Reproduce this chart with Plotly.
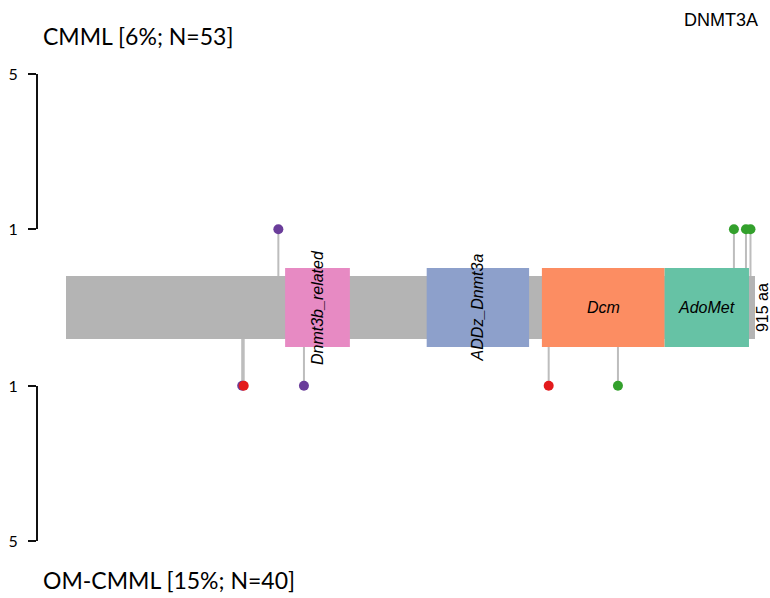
import plotly.graph_objects as go

# Protein and domain annotation (amino-acid coordinates)
PROTEIN = "DNMT3A"
PROTEIN_LEN = 915
domain_names = ["Dnmt3b_related", "ADDz_Dnmt3a", "Dcm", "AdoMet"]
domain_start = [291, 479, 632, 795]
domain_end = [377, 615, 795, 907]
domain_colors = ["#E78AC3", "#8DA0CB", "#FC8D62", "#66C2A5"]
domain_label_angle = [-90, -90, 0, 0]

# Mutations per cohort: position, count, class colour
top_title = "CMML [6%; N=53]"
top_pos = [282, 887, 903, 909]
top_count = [1, 1, 1, 1]
top_color = ["#6A3D9A", "#33A02C", "#33A02C", "#33A02C"]

bot_title = "OM-CMML [15%; N=40]"
bot_pos = [234, 236, 316, 641, 733]
bot_count = [1, 1, 1, 1, 1]
bot_color = ["#6A3D9A", "#E31A1C", "#6A3D9A", "#E31A1C", "#33A02C"]

axis_ticks = [1, 5]

# Geometry of the plotting canvas
W, H = 770, 598
PX_PER_AA = (755 - 66) / PROTEIN_LEN
UNIT = 38.75                      # pixels per mutation count
GAP = (347 - 268) / UNIT          # height of domain band in count units
BAR_TOP = -(276 - 268) / UNIT
BAR_BOT = -(339 - 268) / UNIT
BAR_MID = (BAR_TOP + BAR_BOT) / 2

x_range = [-66 / PX_PER_AA, (W - 66) / PX_PER_AA]
y_range = [-(H - 268) / UNIT, 268 / UNIT]

fig = go.Figure()

def lollipops(pos, count, color, sign):
    for p, c, col in zip(pos, count, color):
        yv = c if sign > 0 else -(GAP + c)
        fig.add_trace(go.Scatter(x=[p, p], y=[BAR_MID, yv], mode="lines",
                                 line=dict(color="#BDBDBD", width=2),
                                 hoverinfo="skip", showlegend=False))
    ys = [c if sign > 0 else -(GAP + c) for c in count]
    fig.add_trace(go.Scatter(x=pos, y=ys, mode="markers",
                             marker=dict(color=color, size=10, line=dict(width=0)),
                             showlegend=False, cliponaxis=False))

lollipops(top_pos, top_count, top_color, 1)
lollipops(bot_pos, bot_count, bot_color, -1)

shapes = [dict(type="rect", xref="x", yref="y", x0=0, x1=PROTEIN_LEN,
               y0=BAR_BOT, y1=BAR_TOP, fillcolor="#B4B4B4", line=dict(width=0),
               layer="above")]
annotations = []
for name, s, e, col, ang in zip(domain_names, domain_start, domain_end,
                                domain_colors, domain_label_angle):
    shapes.append(dict(type="rect", xref="x", yref="y", x0=s, x1=e,
                       y0=-GAP, y1=0, fillcolor=col, line=dict(width=0),
                       layer="above"))
    annotations.append(dict(x=(s + e) / 2, y=-GAP / 2, xref="x", yref="y",
                            text="<i>%s</i>" % name, showarrow=False,
                            textangle=ang,
                            font=dict(family="Liberation Sans", size=16,
                                      color="black")))

annotations.append(dict(x=PROTEIN_LEN + 10, y=-GAP / 2, xref="x", yref="y",
                        text="%d aa" % PROTEIN_LEN, showarrow=False,
                        textangle=-90, xanchor="center",
                        font=dict(family="Liberation Sans", size=16, color="black")))

annotations.append(dict(x=760 / W, y=1 - 20 / H, xref="paper", yref="paper",
                        text=PROTEIN, showarrow=False, xanchor="right",
                        yanchor="middle",
                        font=dict(family="Liberation Sans", size=18, color="black")))
annotations.append(dict(x=41 / W, y=1 - 36 / H, xref="paper", yref="paper",
                        text=top_title, showarrow=False, xanchor="left",
                        yanchor="middle",
                        font=dict(family="Lato", size=23, color="black")))
annotations.append(dict(x=41 / W, y=1 - 580 / H, xref="paper", yref="paper",
                        text=bot_title, showarrow=False, xanchor="left",
                        yanchor="middle",
                        font=dict(family="Lato", size=23, color="black")))

# Count axes drawn as separate subplots
fig.add_trace(go.Scatter(x=[None], y=[None], xaxis="x2", yaxis="y2",
                         showlegend=False))
fig.add_trace(go.Scatter(x=[None], y=[None], xaxis="x3", yaxis="y3",
                         showlegend=False))

axis_common = dict(showline=True, linecolor="#111111", linewidth=2,
                   ticks="outside", ticklen=8, tickwidth=2, tickcolor="#111111",
                   tickvals=axis_ticks, ticktext=[str(t) for t in axis_ticks],
                   showgrid=False, zeroline=False, ticklabelstandoff=7,
                   automargin=False,
                   tickfont=dict(family="Lato", size=16, color="black"))
hidden = dict(visible=False, automargin=False, fixedrange=True)

fig.update_layout(
    width=W, height=H,
    margin=dict(l=0, r=0, t=0, b=0, autoexpand=False),
    paper_bgcolor="white", plot_bgcolor="rgba(0,0,0,0)",
    xaxis=dict(domain=[0, 1], range=x_range, **hidden),
    yaxis=dict(domain=[0, 1], range=y_range, **hidden),
    xaxis2=dict(domain=[38 / W, 0.9], anchor="y2", range=[0, 1], **hidden),
    yaxis2=dict(domain=[1 - 229 / H, 1 - 74 / H], anchor="x2",
                range=[1, 5], **axis_common),
    xaxis3=dict(domain=[38 / W, 0.9], anchor="y3", range=[0, 1], **hidden),
    yaxis3=dict(domain=[1 - 541 / H, 1 - 386 / H], anchor="x3",
                range=[5, 1], **axis_common),
    shapes=shapes,
    annotations=annotations,
)

fig.write_html("out.html")
